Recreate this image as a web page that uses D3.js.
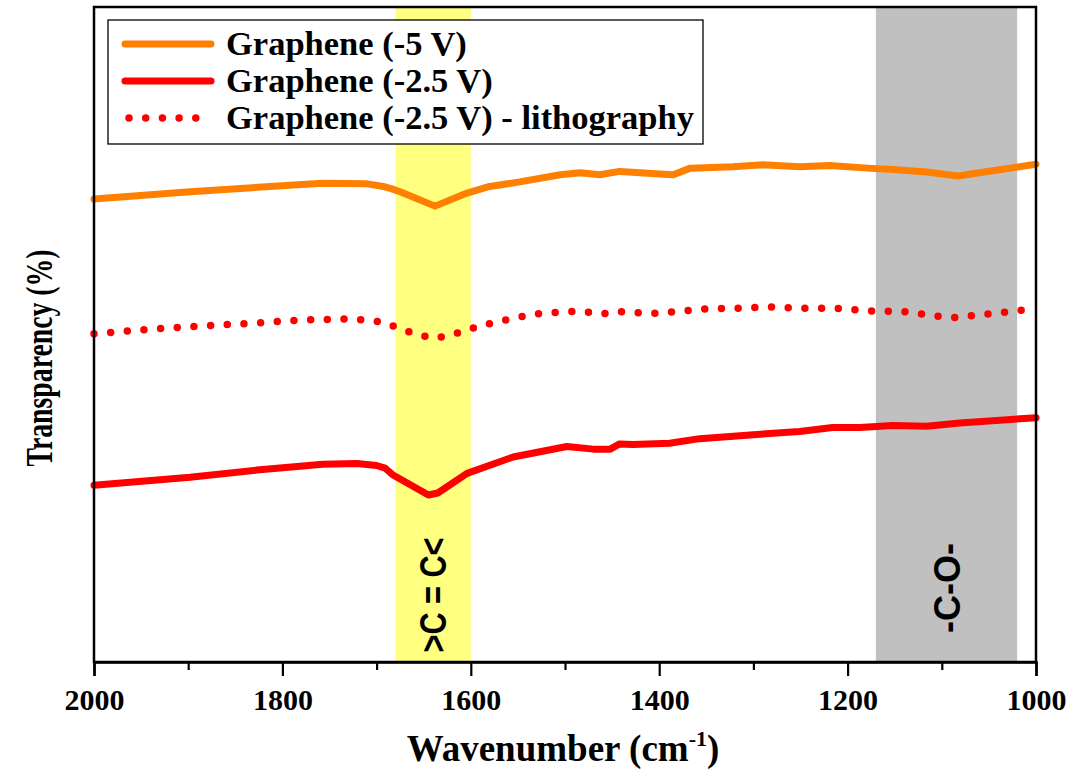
<!DOCTYPE html>
<html>
<head>
<meta charset="utf-8">
<script src="https://cdn.jsdelivr.net/npm/d3@7"></script>
<style>
  html, body { margin: 0; padding: 0; background: #fff; }
  svg { display: block; }
</style>
</head>
<body>
<svg id="chart" width="1091" height="772"></svg>
<script>
// FTIR transmission spectra of graphene samples (arbitrary transparency units)

// Graphene (-5 V)
const wnOrange  = [2000, 1898, 1792, 1757, 1710, 1693, 1683, 1675, 1638, 1604, 1580, 1548, 1505, 1484, 1463, 1442, 1399, 1385, 1367, 1322, 1290, 1251, 1219, 1179, 1152, 1116, 1083, 1046, 1000];
const valOrange = [70.7, 71.8, 72.8, 73.1, 73.0, 72.6, 72.2, 71.8, 69.6, 71.6, 72.6, 73.3, 74.4, 74.7, 74.4, 74.9, 74.5, 74.4, 75.4, 75.6, 75.9, 75.6, 75.8, 75.4, 75.2, 74.8, 74.2, 75.0, 76.0];

// Graphene (-2.5 V)
const wnRed  = [2000, 1898, 1827, 1757, 1721, 1700, 1691, 1683, 1645, 1635, 1604, 1555, 1498, 1470, 1452, 1442, 1428, 1389, 1357, 1300, 1251, 1216, 1187, 1152, 1116, 1081, 1000];
const valRed = [27.0, 28.2, 29.3, 30.2, 30.3, 30.0, 29.6, 28.6, 25.5, 25.8, 28.8, 31.3, 32.9, 32.5, 32.5, 33.3, 33.2, 33.4, 34.1, 34.7, 35.2, 35.8, 35.8, 36.1, 36.0, 36.5, 37.3];

// Graphene (-2.5 V) - lithography
const wnLitho  = [2000, 1941, 1887, 1834, 1781, 1728, 1693, 1674, 1657, 1639, 1621, 1604, 1585, 1567, 1551, 1534, 1515, 1498, 1480, 1462, 1445, 1409, 1373, 1355, 1320, 1283, 1248, 1212, 1177, 1141, 1105, 1087, 1052, 1016, 1000];
const valLitho = [50.1, 50.8, 51.3, 51.7, 52.2, 52.4, 51.9, 50.8, 50.0, 49.4, 49.9, 50.7, 51.5, 52.1, 52.6, 53.1, 53.3, 53.5, 53.5, 53.1, 53.5, 53.2, 53.6, 53.9, 54.0, 54.2, 54.0, 54.0, 53.6, 53.5, 52.8, 52.6, 53.1, 53.7, 54.2];

const seriesNames = ["Graphene (-5 V)", "Graphene (-2.5 V)", "Graphene (-2.5 V) - lithography"];

// Highlighted absorption regions [from, to] in cm^-1
const bandRanges = [[1680, 1600], [1170, 1020]];
const bandLabels = [">C = C<", "-C-O-"];

const majorTicks = [2000, 1800, 1600, 1400, 1200, 1000];
const minorTicks = [1900, 1700, 1500, 1300, 1100];

const svg = d3.select("#chart");
const plotLeft = 94, plotRight = 1036, plotTop = 7, plotBottom = 662;

const x = d3.scaleLinear().domain([2000, 1000]).range([plotLeft, plotRight]);
const y = d3.scaleLinear().domain([0, 100]).range([plotBottom, plotTop]);

const serif = "'Liberation Serif', 'Times New Roman', serif";
const sans = "'Liberation Sans', Arial, sans-serif";

// Shaded bands
const bandFill = ["#ffff80", "#c0c0c0"];
svg.append("g").selectAll("rect")
  .data(bandRanges)
  .join("rect")
  .attr("x", d => x(d[0]))
  .attr("width", d => x(d[1]) - x(d[0]))
  .attr("y", plotTop)
  .attr("height", plotBottom - plotTop)
  .attr("fill", (d, i) => bandFill[i]);

// Band labels, rotated
const bandLabelPos = [{ yc: 595, len: 115 }, { yc: 588, len: 90 }];
svg.append("g").selectAll("text")
  .data(bandRanges)
  .join("text")
  .attr("transform", (d, i) => `translate(${(x(d[0]) + x(d[1])) / 2 + 13},${bandLabelPos[i].yc}) rotate(-90)`)
  .attr("text-anchor", "middle")
  .attr("font-family", sans)
  .attr("font-weight", "bold")
  .attr("font-size", 36)
  .attr("textLength", (d, i) => bandLabelPos[i].len)
  .attr("lengthAdjust", "spacingAndGlyphs")
  .attr("fill", "#000")
  .text((d, i) => bandLabels[i]);

// Spectra
const line = d3.line()
  .x(d => x(d[0]))
  .y(d => y(d[1]))
  .curve(d3.curveLinear);

const zip = (a, b) => a.map((v, i) => [v, b[i]]);

const series = [
  { data: zip(wnOrange, valOrange), color: "#ff8000", dash: null },
  { data: zip(wnLitho, valLitho), color: "#ff0000", dash: "0,16.7" },
  { data: zip(wnRed, valRed), color: "#ff0000", dash: null }
];

svg.append("g")
  .selectAll("path")
  .data(series)
  .join("path")
  .attr("d", d => line(d.data))
  .attr("fill", "none")
  .attr("stroke", d => d.color)
  .attr("stroke-width", d => d.dash ? 7.5 : 7)
  .attr("stroke-linejoin", "round")
  .attr("stroke-linecap", "round")
  .attr("stroke-dasharray", d => d.dash);

// Frame
svg.append("rect")
  .attr("x", plotLeft).attr("y", plotTop)
  .attr("width", plotRight - plotLeft).attr("height", plotBottom - plotTop)
  .attr("fill", "none").attr("stroke", "#000").attr("stroke-width", 2.5);

// X axis
const xAxis = svg.append("g")
  .attr("transform", `translate(0,${plotBottom})`)
  .call(d3.axisBottom(x).tickValues(majorTicks).tickSize(14).tickPadding(13).tickFormat(d3.format("d")));
xAxis.select(".domain").attr("stroke-width", 2.5);
xAxis.selectAll(".tick line").attr("stroke-width", 2.2);
xAxis.selectAll("text")
  .attr("font-family", serif)
  .attr("font-weight", "bold")
  .attr("font-size", 30)
  .attr("fill", "#000");

const xMinor = svg.append("g")
  .attr("transform", `translate(0,${plotBottom})`)
  .call(d3.axisBottom(x).tickValues(minorTicks).tickSize(8).tickFormat(""));
xMinor.select(".domain").remove();
xMinor.selectAll(".tick line").attr("stroke-width", 2.2);

// Axis titles
const xTitle = svg.append("text")
  .attr("x", 563)
  .attr("y", 761)
  .attr("text-anchor", "middle")
  .attr("font-family", serif)
  .attr("font-weight", "bold")
  .attr("font-size", 37)
  .attr("fill", "#000");
xTitle.append("tspan").text("Wavenumber (cm");
xTitle.append("tspan").attr("dy", -15).attr("font-size", 22).text("-1");
xTitle.append("tspan").attr("dy", 15).text(")");

svg.append("text")
  .attr("transform", `translate(52,358) rotate(-90)`)
  .attr("text-anchor", "middle")
  .attr("font-family", serif)
  .attr("font-weight", "bold")
  .attr("font-size", 37)
  .attr("textLength", 217)
  .attr("lengthAdjust", "spacingAndGlyphs")
  .attr("fill", "#000")
  .text("Transparency (%)");

// Legend
const legend = svg.append("g");
legend.append("rect")
  .attr("x", 108).attr("y", 20)
  .attr("width", 595).attr("height", 124)
  .attr("fill", "#fff")
  .attr("stroke", "#000")
  .attr("stroke-width", 1.3);

const legendRowY = [44, 81, 118];
const legendStyle = [series[0], series[2], series[1]];
legendStyle.forEach((s, i) => {
  legend.append("line")
    .attr("x1", s.dash ? 129 : 125).attr("x2", s.dash ? 200 : 211)
    .attr("y1", legendRowY[i]).attr("y2", legendRowY[i])
    .attr("stroke", s.color)
    .attr("stroke-width", s.dash ? 7.5 : 7)
    .attr("stroke-linecap", "round")
    .attr("stroke-dasharray", s.dash);
  legend.append("text")
    .attr("x", 226)
    .attr("y", legendRowY[i] + 11)
    .attr("font-family", serif)
    .attr("font-weight", "bold")
    .attr("font-size", 34.5)
    .attr("fill", "#000")
    .text(seriesNames[i]);
});
</script>
</body>
</html>
